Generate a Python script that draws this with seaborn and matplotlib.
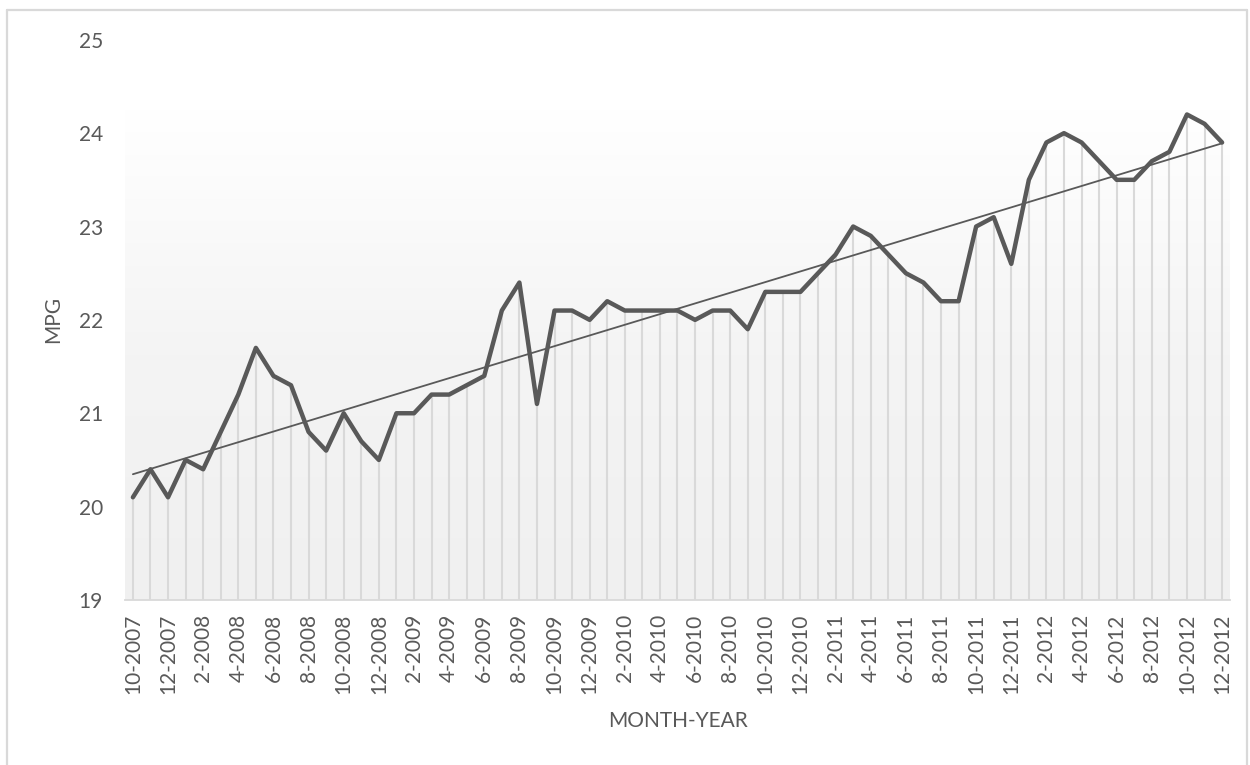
import numpy as np
import pandas as pd
import matplotlib
matplotlib.use("Agg")
import matplotlib.pyplot as plt
from matplotlib.lines import Line2D
import seaborn as sns

months = []
for y in range(2007, 2013):
    for m in range(1, 13):
        if (y == 2007 and m < 10):
            continue
        months.append(f"{m}-{y}")

mpg = [20.1, 20.4, 20.1, 20.5, 20.4, 20.8, 21.2, 21.7, 21.4, 21.3,
       20.8, 20.6, 21.0, 20.7, 20.5, 21.0, 21.0, 21.2, 21.2, 21.3,
       21.4, 22.1, 22.4, 21.1, 22.1, 22.1, 22.0, 22.2, 22.1, 22.1,
       22.1, 22.1, 22.0, 22.1, 22.1, 21.9, 22.3, 22.3, 22.3, 22.5,
       22.7, 23.0, 22.9, 22.7, 22.5, 22.4, 22.2, 22.2, 23.0, 23.1,
       22.6, 23.5, 23.9, 24.0, 23.9, 23.7, 23.5, 23.5, 23.7, 23.8,
       24.2, 24.1, 23.9]
y_ticks = [19, 20, 21, 22, 23, 24, 25]

idx = np.arange(len(mpg))
df = pd.DataFrame({"idx": idx, "mpg": mpg, "month": months})

sns.set_theme(style="white")
plt.rcParams['font.family'] = ['Lato', 'DejaVu Sans']

fig = plt.figure(figsize=(12.5, 7.65), dpi=100)
ax = fig.add_axes([0.1, 0.2157, 0.884, 0.7323])

# chart-area border (left, top, right)
W, H = 1250, 765
bc = "#d9d9d9"
fig.add_artist(Line2D([7 / W, 7 / W], [0, 1 - 10 / H], transform=fig.transFigure, color=bc, lw=1.6))
fig.add_artist(Line2D([7 / W, 1247 / W], [1 - 10 / H, 1 - 10 / H], transform=fig.transFigure, color=bc, lw=1.6))
fig.add_artist(Line2D([1247 / W, 1247 / W], [0, 1 - 10 / H], transform=fig.transFigure, color=bc, lw=1.6))

xmin, xmax = -0.45, len(mpg) - 1 + 0.45
ymin, ymax = 19, 25

# gradient background box
grad = np.linspace(0, 1, 256).reshape(-1, 1)
cmap = matplotlib.colors.LinearSegmentedColormap.from_list("g", ["#f0f0f0", "#f4f4f4", "#ffffff"])
ax.imshow(grad, extent=[xmin, xmax, ymin, max(mpg) + 0.05], origin="lower",
          aspect="auto", cmap=cmap, zorder=0)

# drop lines
ax.vlines(df["idx"], ymin, df["mpg"], color="#d9d9d9", linewidth=1.5, zorder=1)

sns.lineplot(data=df, x="idx", y="mpg", ax=ax, color="#595959", linewidth=3.2,
             zorder=3)
sns.regplot(data=df, x="idx", y="mpg", ax=ax, scatter=False, ci=None, truncate=True,
            line_kws=dict(color="#595959", linewidth=1.3, zorder=4))

ax.set_xlim(xmin, xmax)
ax.set_ylim(ymin, ymax)
ax.set_yticks(y_ticks)
ax.set_yticklabels([str(v) for v in y_ticks], fontsize=15, color="#595959")
ax.set_xticks(idx[::2])
ax.set_xticklabels(months[::2], rotation=90, fontsize=15, color="#595959")
ax.tick_params(axis="y", length=0, pad=16)
ax.tick_params(axis="x", length=0, pad=10)

for s in ["top", "right", "left"]:
    ax.spines[s].set_visible(False)
ax.spines["bottom"].set_color("#d9d9d9")
ax.spines["bottom"].set_linewidth(1.3)
ax.set_facecolor("white")

ax.set_xlabel("MONTH-YEAR", fontsize=15, color="#595959", labelpad=12)
ax.set_ylabel("MPG", fontsize=15, color="#595959", labelpad=11)

fig.savefig("out.png", dpi=100)
